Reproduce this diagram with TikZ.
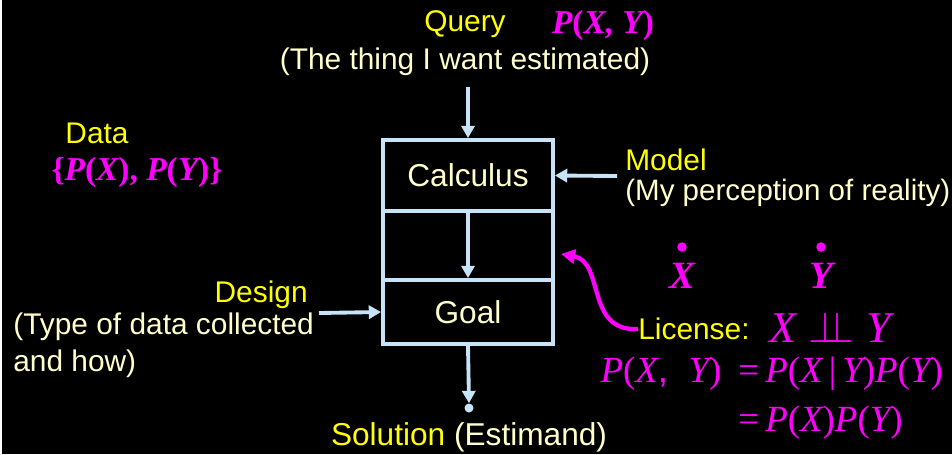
\documentclass[tikz,border=0pt]{standalone}
\usepackage{fontspec}
\setmainfont{Liberation Sans}
\newfontfamily\timesfont{Liberation Serif}
\usepackage{xcolor}
\usetikzlibrary{arrows.meta, positioning}
\definecolor{lineblue}{HTML}{C6E3F7}
\definecolor{cream}{HTML}{FFFFCC}
\definecolor{hiyellow}{HTML}{FFFF00}
\definecolor{hipink}{HTML}{FF00FF}
\newcommand{\itv}[1]{{\timesfont\itshape #1}}
\newcommand{\rmv}[1]{{\timesfont #1}}
\newcommand{\bfit}[1]{{\timesfont\bfseries\itshape #1}}
\newcommand{\bfr}[1]{{\timesfont\bfseries #1}}

\begin{document}
\begin{tikzpicture}[x=0.02cm, y=-0.02cm,
  txt/.style={inner sep=0pt, font=\fontsize{17}{21}\selectfont},
  eq/.style={inner sep=0pt, text=hipink, font=\fontsize{21}{24}\selectfont},
  part/.style={draw=lineblue, line width=2.2pt, minimum width=3.4cm, text=cream, font=\fontsize{18}{21}\selectfont},
  flow/.style={draw=lineblue, line width=2.2pt, -{Triangle[length=7pt, width=7.5pt]}},
  pinkdot/.style={circle, fill=hipink, inner sep=0pt, minimum size=0.19cm}]
\fill[black] (0,0) rectangle (952,454);
\fill[white] (0,0) rectangle (2,454);
\useasboundingbox (0,0) rectangle (952,454);

\node[part, minimum height=1.42cm] (calc) at (468,175.5) {Calculus};
\node[part, minimum height=1.38cm] (mid) at (468,245.5) {};
\node[part, minimum height=1.28cm] (goal) at (468,312) {Goal};

\node[txt, text=hiyellow] (query) at (465,24) {Query};
\node[eq, font=\fontsize{19}{21}\selectfont] (qexpr) at (603,25) {\bfit{P}\bfr{(}\bfit{X, Y}\bfr{)}};
\node[txt, text=cream] (want) at (465,62) {(The thing I want estimated)};

\node[txt, text=hiyellow] (data) at (97,133) {Data};
\node[eq, font=\fontsize{19}{21}\selectfont] (dataset) at (137,172) {\bfr{\{}\bfit{P}\bfr{(}\bfit{X}\bfr{), }\bfit{P}\bfr{(}\bfit{Y}\bfr{)\}}};

\node[txt, text=hiyellow, anchor=east] (design) at (308,295) {Design};
\node[txt, text=cream, anchor=west, align=left] (designnote) at (13,345) {(Type of data collected\\and how)};

\node[txt, text=hiyellow, anchor=west] (model) at (625,160) {Model};
\node[txt, text=cream, anchor=west, font=\fontsize{16.8}{21}\selectfont] (modelnote) at (625,193) {(My perception of reality)};

\node[eq, font=\fontsize{22}{24}\selectfont] (x) at (682,276) {\bfit{X}};
\node[pinkdot] (xdot) at (682,247) {};
\node[eq, font=\fontsize{22}{24}\selectfont] (y) at (821,276) {\bfit{Y}};
\node[pinkdot] (ydot) at (821,247) {};

\node[txt, text=hiyellow, anchor=west] (license) at (638,329) {License:};
\node[eq, font=\fontsize{25}{27}\selectfont] (indep) at (830,327) {\itv{X} $\perp\!\!\!\perp$ \itv{Y}};
\node[eq] (lhs) at (661,374) {\itv{P}\rmv{(}\itv{X},\ \ \itv{Y}\rmv{)}};
\node[eq, anchor=west] (rhs) at (738,374) {\rmv{=}\,\itv{P}\rmv{(}\itv{X}\,\rmv{|}\,\itv{Y}\rmv{)}\itv{P}\rmv{(}\itv{Y}\rmv{)}};
\node[eq, anchor=west] (rhs2) at (738,423) {\rmv{=}\,\itv{P}\rmv{(}\itv{X}\rmv{)}\itv{P}\rmv{(}\itv{Y}\rmv{)}};

\node[txt, font=\fontsize{18}{21}\selectfont] (solution) at (469,437) {\textcolor{hiyellow}{Solution} \textcolor{cream}{(Estimand)}};
\node[circle, fill=lineblue, inner sep=0pt, minimum size=0.18cm] (end) at (469,408) {};

\coordinate (modelin) at (617,176);
\coordinate (designin) at (319,313);
\coordinate (licensetip) at (561,254);

\draw[flow, shorten <=6pt] (want.south -| calc.north) -- (calc.north);
\draw[flow] (calc.south) -- (goal.north);
\draw[flow] (goal.south) -- (end.north);
\draw[flow] (modelin) -- (calc.east);
\draw[flow] (designin) -- (goal.west);
\draw[hipink, line width=2.4pt, -{Triangle[length=8pt, width=8pt]}] (license.west) .. controls (585,332) and (605,262) .. (licensetip);
\end{tikzpicture}
\end{document}
